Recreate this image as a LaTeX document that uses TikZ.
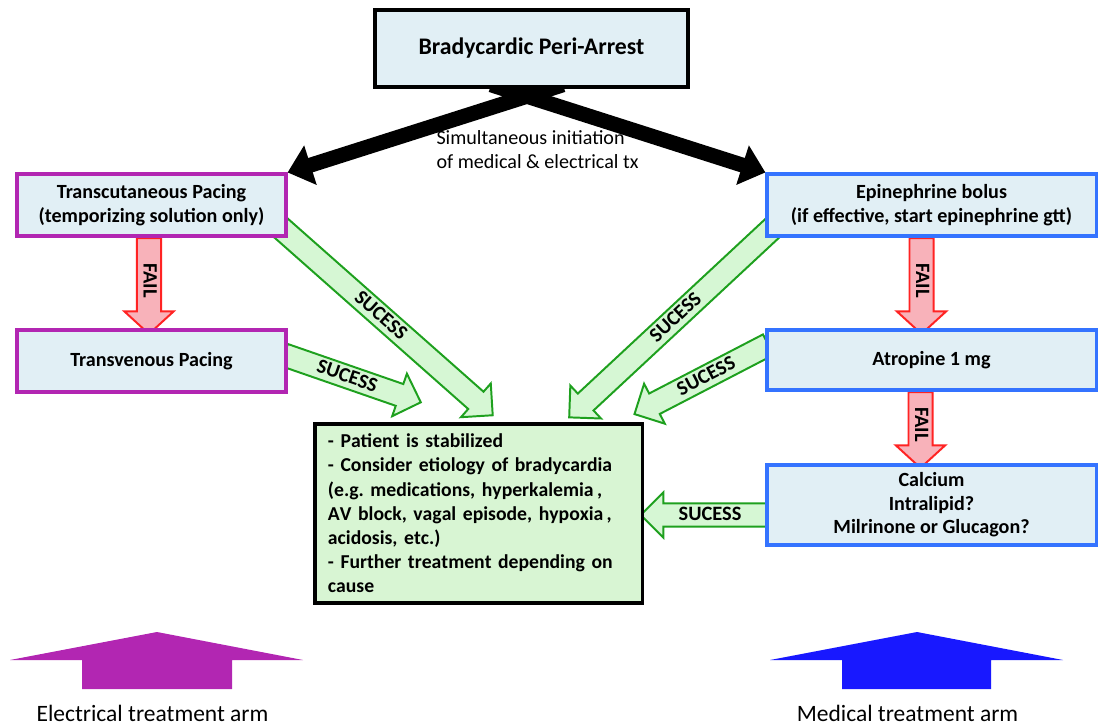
\documentclass[tikz,border=0pt]{standalone}
\usepackage{fontspec}
\setmainfont{Carlito}
\newfontfamily\resfont{Carlito}[Kerning=Off]
\usetikzlibrary{arrows.meta}
\usetikzlibrary{shapes.arrows}
\usetikzlibrary{calc}

\definecolor{boxfill}{RGB}{225,239,245}
\definecolor{elecpurple}{RGB}{178,38,178}
\definecolor{medblue}{RGB}{52,115,255}
\definecolor{armblue}{RGB}{24,24,255}
\definecolor{sucgreen}{RGB}{30,160,30}
\definecolor{sucfill}{RGB}{214,247,212}
\definecolor{resfill}{RGB}{216,245,211}
\definecolor{failred}{RGB}{255,35,35}
\definecolor{failfill}{RGB}{248,178,186}

\pgfdeclarelayer{back}
\pgfsetlayers{back,main}

\tikzset{
  startbox/.style={draw=black, line width=2.5pt, fill=boxfill, minimum width=7.825cm, minimum height=1.925cm, font=\bfseries\fontsize{16.9}{19}\selectfont},
  elecbox/.style={draw=elecpurple, line width=2.2pt, fill=boxfill, minimum width=6.725cm, minimum height=1.55cm, align=center, font=\bfseries\fontsize{14.3}{16.7}\selectfont},
  medbox/.style={draw=medblue, line width=2.2pt, fill=boxfill, minimum width=8.225cm, minimum height=1.55cm, align=center, font=\bfseries\fontsize{14.3}{16.7}\selectfont},
  resbox/.style={draw=black, line width=2.2pt, fill=resfill, minimum width=8.175cm, minimum height=4.475cm, text width=7.525cm, align=left, font=\resfont\bfseries\fontsize{14}{17.2}\selectfont},
  bigarrow/.style={line width=0.375cm, -{Triangle[length=0.6cm,width=1.0cm]}},
  sucarrow/.style={single arrow, draw=sucgreen, line width=1.4pt, fill=sucfill, single arrow head extend=7.8pt, single arrow tip angle=90, inner sep=3.5pt, text height=8pt, text depth=0pt, font=\bfseries\fontsize{14.5}{16}\selectfont},
  failarrow/.style={single arrow, draw=failred, line width=1.4pt, fill=failfill, single arrow head extend=8.9pt, single arrow tip angle=95, inner sep=4pt, text height=7.7pt, text depth=0pt, font=\bfseries\fontsize{14.5}{16}\selectfont},
  turned/.style={rotate=180, shape border rotate=180},
  armtext/.style={font=\fontsize{16.7}{19}\selectfont}
}

% block arrow between two named points
\newcommand{\blockarrow}[4][]{%
  \path let \p1=(#2), \p2=(#3), \n1={atan2(\y2-\y1,\x2-\x1)}, \n2={veclen(\x2-\x1,\y2-\y1)} in
    node[rotate=\n1, minimum height=\n2, #1] at ($(#2)!0.5!(#3)$) {#4};}

\begin{document}
\begin{tikzpicture}[x=0.025cm, y=-0.025cm]
  \useasboundingbox (0,0) rectangle (1099,725);

  % boxes
  \node[startbox] (top) at (531.5,48.5) {Bradycardic Peri-Arrest};
  \node[elecbox] (tcp) at (151.5,205) {Transcutaneous Pacing\\(temporizing solution only)};
  \node[elecbox] (tvp) at (151.5,361) {Transvenous Pacing};
  \node[medbox] (epi) at (931.5,205) {Epinephrine bolus\\(if effective, start epinephrine gtt)};
  \node[medbox, minimum height=1.5cm] (atr) at (931.5,360) {Atropine 1 mg};
  \node[medbox, minimum height=2cm] (cal) at (931.5,505) {Calcium\\Intralipid?\\Milrinone or Glucagon?};
  \node[resbox] (res) at (478.5,513.5) {- Patient is stabilized\\- Consider etiology of bradycardia\\(e.g.\ medications, hyperkalemia\,,\\AV block, vagal episode, hypoxia\,,\\acidosis, etc.)\\- Further treatment depending on\\cause};

  \node[align=left, font=\fontsize{14.3}{17}\selectfont] (simul) at (537.5,150) {Simultaneous initiation\\of medical \& electrical tx};

  % arrow ends
  \coordinate (bl) at ($(top.south)+(31.5,-4)$);
  \coordinate (br) at ($(top.south)+(-40.5,-4)$);
  \coordinate (a1s) at ($(tcp.south east)+(-15,-17)$);
  \coordinate (a1e) at ($(res.north west)+(175,-11)$);
  \coordinate (a2s) at ($(tvp.east)+(-9,-8)$);
  \coordinate (a2e) at ($(res.north west)+(102,-22)$);
  \coordinate (a3s) at ($(epi.south west)+(13,-15)$);
  \coordinate (a3e) at ($(res.north west)+(260,-9)$);
  \coordinate (a4s) at ($(atr.west)+(8,-18)$);
  \coordinate (a4e) at ($(res.north east)+(-4,-11)$);
  \coordinate (a5s) at ($(cal.west)+(8,10)$);
  \coordinate (a5e) at ($(res.east)+(3,1.5)$);
  \coordinate (f1s) at ($(tcp.south)+(-2.5,-5)$);
  \coordinate (f1e) at ($(tvp.north)+(-2.5,0)$);
  \coordinate (f2s) at ($(epi.south)+(-10,-5)$);
  \coordinate (f2e) at ($(atr.north)+(-10,0)$);
  \coordinate (f3s) at ($(atr.south)+(-11,-5)$);
  \coordinate (f3e) at ($(cal.north)+(-11,-1)$);

  \begin{pgfonlayer}{back}
    \draw[bigarrow] (bl) -- (tcp.north east);
    \draw[bigarrow] (br) -- (epi.north west);
    \blockarrow[sucarrow]{a1s}{a1e}{SUCESS}
    \blockarrow[sucarrow]{a2s}{a2e}{SUCESS}
    \blockarrow[sucarrow, turned]{a3s}{a3e}{SUCESS}
    \blockarrow[sucarrow, turned]{a4s}{a4e}{SUCESS}
    \blockarrow[sucarrow, turned]{a5s}{a5e}{SUCESS}
    \blockarrow[failarrow]{f1s}{f1e}{FAIL}
    \blockarrow[failarrow]{f2s}{f2e}{FAIL}
    \blockarrow[failarrow]{f3s}{f3e}{FAIL}
  \end{pgfonlayer}

  % treatment arms
  \fill[elecpurple] (157,632) -- (303,660) -- (232,660) -- (232,689) -- (82,689) -- (82,660) -- (10,660) -- cycle;
  \fill[armblue] (917,632) -- (1063,660) -- (991,660) -- (991,689) -- (842,689) -- (842,660) -- (770,660) -- cycle;
  \node[armtext] (elecarm) at (152.5,713) {Electrical treatment arm};
  \node[armtext] (medarm) at (907.5,713) {Medical treatment arm};
\end{tikzpicture}
\end{document}
